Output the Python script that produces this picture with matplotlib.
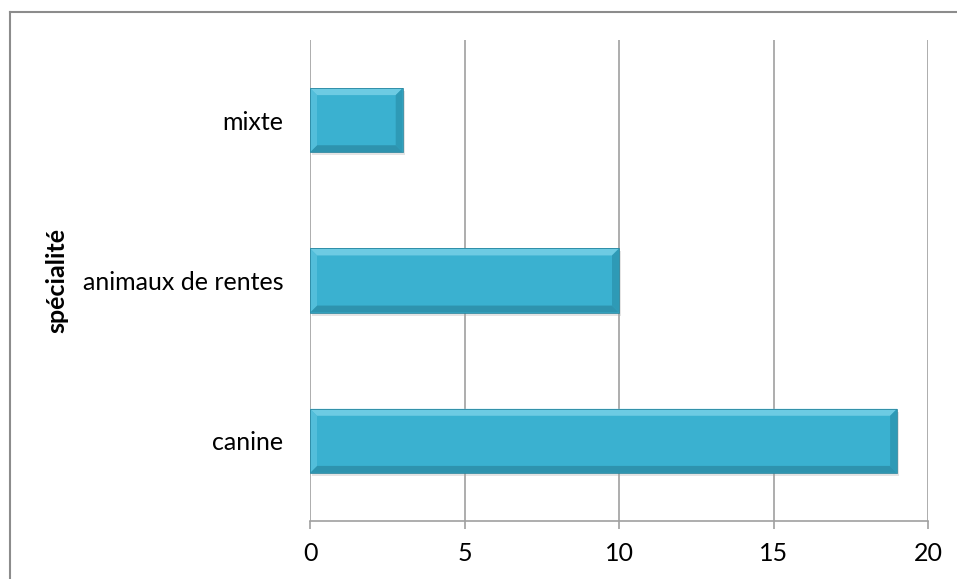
import matplotlib
matplotlib.use("Agg")
import matplotlib.pyplot as plt
from matplotlib.patches import Polygon, Rectangle
from matplotlib.lines import Line2D
import matplotlib.transforms as mtransforms

categories = ["canine", "animaux de rentes", "mixte"]
values = [19, 10, 3]
x_ticks = [0, 5, 10, 15, 20]
axis_label = "spécialité"

plt.rcParams["font.family"] = ["Lato", "DejaVu Sans"]

W, H = 957, 579
fig = plt.figure(figsize=(W / 100, H / 100), dpi=100)
ax = fig.add_axes([310 / W, 1 - 521 / H, (928 - 310) / W, (521 - 40) / H])

face = "#3ab1d0"
top_c = "#7fd5ea"
left_c = "#5cc3de"
right_c = "#2b93ae"
bottom_c = "#2a8aa3"
bar_h = 0.4

ax.set_xlim(0, 20)
ax.set_ylim(-0.5, 2.5)

# pixel scale of the data axes, used for the bevel widths
ax_w_px = (928 - 310)
ax_h_px = (521 - 40)
px_x = 20 / ax_w_px
px_y = 3 / ax_h_px
bev = 7

shadow_tr = mtransforms.offset_copy(ax.transData, fig=fig, x=2, y=-3, units="dots")
for i, v in enumerate(values):
    ax.barh(i, v, height=bar_h, color="#a8a8a8", alpha=0.3, transform=shadow_tr,
            zorder=2, linewidth=0)
    ax.barh(i, v, height=bar_h, color=face, zorder=3, linewidth=0)
    x0, x1 = 0, v
    y0, y1 = i - bar_h / 2, i + bar_h / 2
    dx, dy = bev * px_x, bev * px_y
    sides = [
        ([(x0, y1), (x1, y1), (x1 - dx, y1 - dy), (x0 + dx, y1 - dy)], top_c),
        ([(x0, y0), (x1, y0), (x1 - dx, y0 + dy), (x0 + dx, y0 + dy)], bottom_c),
        ([(x0, y0), (x0, y1), (x0 + dx, y1 - dy), (x0 + dx, y0 + dy)], left_c),
        ([(x1, y0), (x1, y1), (x1 - dx, y1 - dy), (x1 - dx, y0 + dy)], right_c),
    ]
    for pts, c in sides:
        ax.add_patch(Polygon(pts, closed=True, facecolor=c, edgecolor="none",
                             alpha=0.75, zorder=4))
    ax.add_patch(Rectangle((x0, y0), v, bar_h, facecolor="none",
                           edgecolor="#2a87a0", linewidth=0.6, zorder=5))

ax.set_xticks(x_ticks)
ax.set_xticklabels([str(t) for t in x_ticks])
ax.set_yticks(range(len(categories)))
ax.set_yticklabels(categories)
ax.xaxis.grid(True, color="#a0a0a0", linewidth=1.2, zorder=0)
ax.set_axisbelow(True)
for s in ["top", "right", "left"]:
    ax.spines[s].set_visible(False)
ax.spines["bottom"].set_color("#a0a0a0")
ax.spines["bottom"].set_linewidth(1.2)
ax.tick_params(axis="x", length=6, width=1.2, color="#a0a0a0", labelsize=18,
               pad=9)
ax.tick_params(axis="y", length=0, labelsize=18, pad=19)
ax.set_ylabel(axis_label, fontsize=18, fontweight="bold", labelpad=0)
ax.yaxis.set_label_coords(-(310 - 68) / ax_w_px, 0.5)

# chart frame
fig.add_artist(Line2D([9.5 / W, 9.5 / W], [0, 1 - 11.5 / H], color="#8c8c8c",
                      linewidth=1.5, transform=fig.transFigure))
fig.add_artist(Line2D([9.5 / W, 1], [1 - 11.5 / H, 1 - 11.5 / H], color="#8c8c8c",
                      linewidth=1.5, transform=fig.transFigure))

fig.savefig("out.png", dpi=100)
